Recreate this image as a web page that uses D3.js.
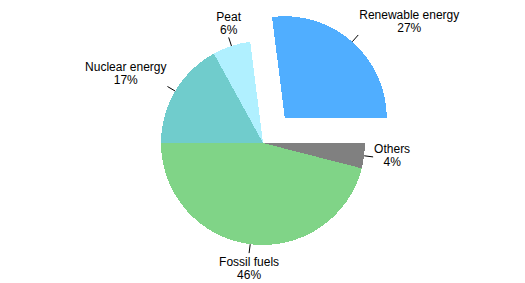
<!DOCTYPE html>
<html>
<head>
<meta charset="utf-8">
<script src="https://cdn.jsdelivr.net/npm/d3@7"></script>
<style>
  html, body { margin: 0; padding: 0; background: #fff; }
  svg { display: block; }
  text { font-family: "Liberation Sans", Arial, sans-serif; font-size: 12px; fill: #000; }
</style>
</head>
<body>
<svg id="chart" width="525" height="283"></svg>
<script>
const categories = ["Renewable energy", "Others", "Fossil fuels", "Nuclear energy", "Peat"];
const values = [27, 4, 46, 17, 6];
const colors = ["#50AEFF", "#808080", "#80D487", "#70CCCC", "#B0F0FF"];
const exploded = [true, false, false, false, false];

const W = 525, H = 283;
const cx = 263, cy = 143, R = 102, explodeDist = 33;
const startDeg = -7.2;

const svg = d3.select("#chart");
const g = svg.append("g").attr("transform", `translate(${cx},${cy})`);

const data = categories.map((c, i) => ({ name: c, value: values[i], color: colors[i], explode: exploded[i] }));
const start = startDeg * Math.PI / 180;
const pie = d3.pie().sort(null).value(d => d.value).startAngle(start).endAngle(start + 2 * Math.PI);
const arcs = pie(data);
const arc = d3.arc().innerRadius(0).outerRadius(R);

arcs.forEach(a => {
  const mid = (a.startAngle + a.endAngle) / 2;
  a.mid = mid;
  a.ux = Math.sin(mid);
  a.uy = -Math.cos(mid);
  const off = a.data.explode ? explodeDist : 0;
  a.ox = a.ux * off;
  a.oy = a.uy * off;
});

g.selectAll("path.slice").data(arcs).enter().append("path")
  .attr("class", "slice")
  .attr("d", arc)
  .attr("fill", d => d.data.color)
  .attr("shape-rendering", "crispEdges")
  .attr("transform", d => `translate(${d.ox},${d.oy})`);

const r1 = R, r2 = R + 9;
g.selectAll("line.leader").data(arcs).enter().append("line")
  .attr("class", "leader")
  .attr("x1", d => d.ox + d.ux * r1)
  .attr("y1", d => d.oy + d.uy * r1)
  .attr("x2", d => d.ox + d.ux * r2)
  .attr("y2", d => d.oy + d.uy * r2)
  .attr("stroke", "#000")
  .attr("stroke-width", 1);

const gapX = 1, gapY = 4, lineH = 13, asc = 9, desc = 3;
arcs.forEach(a => {
  const ex = a.ox + a.ux * r2, ey = a.oy + a.uy * r2;
  const t = g.append("text").attr("text-anchor", "middle");
  const l1 = t.append("tspan").text(a.data.name);
  const l2 = t.append("tspan").text(a.data.value + "%");
  const w = Math.max(l1.node().getComputedTextLength(), l2.node().getComputedTextLength());
  const h = asc + lineH + desc;
  let centerX, top;
  if (a.ux > 0.35) centerX = ex + gapX + w / 2;
  else if (a.ux < -0.35) centerX = ex - gapX - w / 2;
  else centerX = ex;
  if (a.uy > 0.35) top = ey + gapY;
  else if (a.uy < -0.35) top = ey - h;
  else top = ey - h / 2;
  const b = top + asc;
  l1.attr("x", centerX).attr("y", b);
  l2.attr("x", centerX).attr("y", b + lineH);
});
</script>
</body>
</html>
